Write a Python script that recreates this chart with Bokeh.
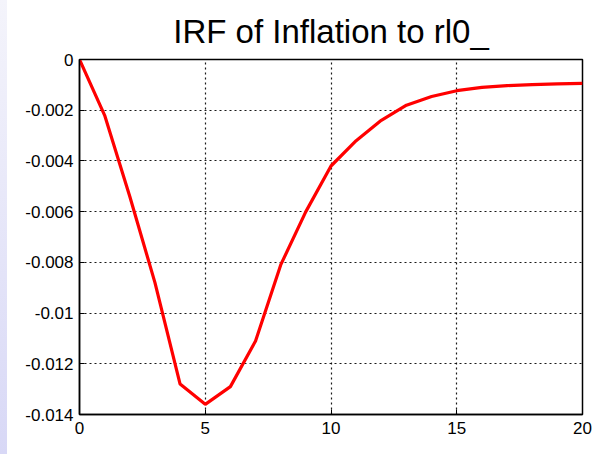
from bokeh.plotting import figure
from bokeh.models import FixedTicker, Range1d, Div
from bokeh.layouts import row
from bokeh.embed import file_html
from bokeh.resources import INLINE

# Impulse response of inflation to an rl0_ shock, periods 0..20
periods = list(range(21))
irf_inflation = [0.0, -0.0022, -0.0054, -0.0088, -0.0128, -0.0136, -0.0129,
                 -0.0111, -0.0081, -0.0060, -0.0042, -0.0032, -0.0024, -0.0018,
                 -0.00146, -0.00123, -0.00110, -0.00103, -0.00099, -0.00096,
                 -0.00094]

x_ticks = [0, 5, 10, 15, 20]
y_ticks = [0.0, -0.002, -0.004, -0.006, -0.008, -0.01, -0.012, -0.014]
y_tick_labels = ["0", "-0.002", "-0.004", "-0.006", "-0.008", "-0.01", "-0.012", "-0.014"]

FONT = "Liberation Sans"

p = figure(width=588, height=454, output_backend="svg", toolbar_location=None,
           x_range=Range1d(0, 20), y_range=Range1d(-0.014, 0),
           min_border_left=72, min_border_right=13, min_border_top=58,
           min_border_bottom=40, title="IRF of Inflation to rl0_")
p.background_fill_color = "white"
p.border_fill_color = "white"
p.outline_line_color = "black"
p.outline_line_width = 1.5

p.title.text_font = FONT
p.title.text_font_size = "33px"
p.title.text_font_style = "normal"
p.title.text_color = "black"
p.title.align = "center"
p.title.standoff = 20

p.line(periods, irf_inflation, line_color="red", line_width=3.2)

p.xaxis.ticker = FixedTicker(ticks=x_ticks)
p.yaxis.ticker = FixedTicker(ticks=y_ticks)
p.yaxis.major_label_overrides = dict(zip(y_ticks, y_tick_labels))

for ax in (p.xaxis[0], p.yaxis[0]):
    ax.axis_line_color = "black"
    ax.axis_line_width = 1.5
    ax.major_tick_in = 5
    ax.major_tick_out = 0
    ax.minor_tick_line_color = None
    ax.major_tick_line_color = "black"
    ax.major_label_text_font = FONT
    ax.major_label_text_font_size = "17px"
    ax.major_label_text_color = "black"
p.yaxis.major_label_standoff = 6
p.xaxis.major_label_standoff = 7

for g in (p.xgrid[0], p.ygrid[0]):
    g.grid_line_color = "black"
    g.grid_line_alpha = 0.9
    g.grid_line_dash = "2 3"
    g.grid_line_width = 1.2

strip = Div(width=7, height=454, margin=0,
            styles={"background": "linear-gradient(#f4f4fb, #d8d8f6)"})

layout = row(strip, p, spacing=0)
open("out.html", "w").write(file_html(layout, INLINE))
